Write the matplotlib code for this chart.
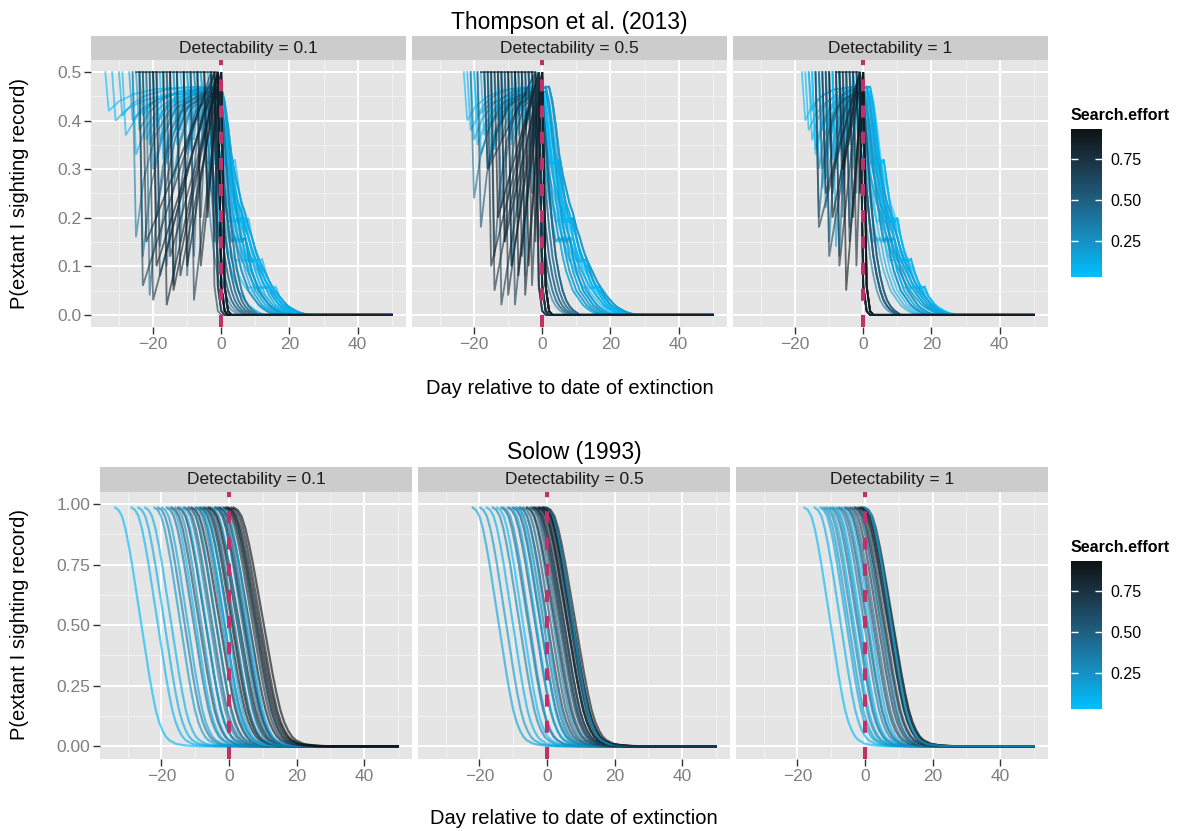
import numpy as np
import matplotlib
matplotlib.use('Agg')
import matplotlib.pyplot as plt
from matplotlib.colors import LinearSegmentedColormap, Normalize
from matplotlib.cm import ScalarMappable
from matplotlib.ticker import MultipleLocator

plt.rcParams['font.family'] = ['Liberation Sans', 'DejaVu Sans']

W, H = 1180, 831

facet_labels = ['Detectability = 0.1', 'Detectability = 0.5', 'Detectability = 1']

# colour scale for search effort
effort_palette = ['#00BFFF', '#1590C2', '#1F6286', '#1C394B', '#0E1215']
effort_range = [0.03, 0.93]

# ---- Thompson et al. (2013): one entry per simulated curve ----
# start day (P = 0.5), value after the first day, day the curve tops out, search effort
thompson_start = [
    [-34, -32, -30, -29, -27, -26, -25, -24, -22, -21, -20, -19, -18, -16, -15, -14, -13, -12, -11, -10, -9, -8, -7, -6, -5,
     -23, -17, -14, -10, -8, -6, -4, -3,
     -26, -24, -22, -20, -19, -17, -15, -13, -11, -9, -7, -5,
     -25, -24, -23, -21, -20, -19, -17, -16, -15, -13, -11, -9, -7, -5, -3, -2],
    [-23, -22, -21, -20, -19, -18, -17, -16, -15, -14, -13, -12, -11, -10, -9, -8, -7, -6, -5, -4, -3, -2,
     -20, -16, -13, -10, -8, -6, -4, -3,
     -21, -19, -17, -15, -13, -12, -10, -8, -6, -4,
     -18, -17, -16, -15, -14, -13, -12, -11, -10, -9, -8, -7, -6, -5, -4, -3],
    [-18, -17, -16, -15, -14, -13, -12, -11, -10, -9, -8, -7, -6, -5, -4, -3, -2, -16, -12, -9, -7, -4,
     -15, -13, -11, -9, -7, -5, -3, -2,
     -14, -13, -11, -10, -8, -7, -5, -3,
     -14, -12, -11, -10, -8, -7, -6, -5, -4, -3, -2, -8],
]
thompson_dip = [
    [0.42, 0.40, 0.41, 0.37, 0.40, 0.33, 0.38, 0.41, 0.35, 0.30, 0.39, 0.36, 0.32, 0.40, 0.28, 0.35, 0.38, 0.42, 0.33, 0.40, 0.36, 0.43, 0.38, 0.44, 0.41,
     0.36, 0.31, 0.38, 0.34, 0.40, 0.37, 0.42, 0.44,
     0.16, 0.12, 0.04, 0.20, 0.14, 0.10, 0.06, 0.15, 0.08, 0.12, 0.20, 0.25,
     0.50, 0.06, 0.15, 0.03, 0.10, 0.08, 0.02, 0.12, 0.05, 0.08, 0.10, 0.03, 0.10, 0.20, 0.15, 0.30],
    [0.40, 0.38, 0.36, 0.41, 0.33, 0.37, 0.30, 0.39, 0.34, 0.40, 0.36, 0.42, 0.38, 0.35, 0.41, 0.37, 0.43, 0.39, 0.42, 0.44, 0.40, 0.45,
     0.35, 0.32, 0.39, 0.36, 0.41, 0.38, 0.43, 0.45,
     0.24, 0.18, 0.30, 0.12, 0.22, 0.15, 0.10, 0.20, 0.08, 0.25,
     0.50, 0.30, 0.10, 0.05, 0.20, 0.02, 0.15, 0.04, 0.10, 0.02, 0.08, 0.12, 0.04, 0.10, 0.06, 0.15],
    [0.40, 0.38, 0.42, 0.34, 0.30, 0.38, 0.28, 0.36, 0.32, 0.30, 0.35, 0.33, 0.38, 0.40, 0.42, 0.43, 0.44, 0.36, 0.22, 0.14, 0.25, 0.30,
     0.33, 0.26, 0.37, 0.31, 0.39, 0.35, 0.42, 0.45,
     0.20, 0.30, 0.15, 0.25, 0.12, 0.20, 0.18, 0.25,
     0.18, 0.25, 0.12, 0.20, 0.10, 0.30, 0.05, 0.15, 0.20, 0.10, 0.25, 0.50],
]
thompson_peak = [
    [-8, -3, -6, 0, -4, -1, -2, -7, -1, 0, -5, -2, -1, -3, 0, -4, -2, -6, -1, 0, -3, -1, -2, 0, -1,
     -2, 0, -5, -1, -3, 0, -1, 0,
     -6, -5, -4, -4, -3, -3, -2, -2, -1, -1, 0, 0,
     -1, -3, -2, -2, -1, -2, -1, 0, -1, 0, -1, 0, 0, -1, 0, 0],
    [-3, -1, 0, -2, 1, -2, 2, -3, 0, -1, 1, -2, 1, 0, 2, -1, 1, 1, 2, 0, 1, 0,
     0, -1, 2, 1, -1, 1, 0, 1,
     -4, -3, -3, -2, -2, -1, -1, 0, 0, 0,
     -2, -2, -1, -2, -1, -1, 0, -1, 0, -1, 0, -1, 0, 0, 0, 0],
    [-2, 0, -3, 1, -1, 2, -2, 0, 1, -1, 2, 0, 1, -3, 2, 0, 1, -1, 0, 1, -2, 2,
     0, 1, -1, 2, 0, 1, 2, 0,
     -2, -1, -1, -1, 0, -1, 0, 0,
     -1, -1, -1, -1, -1, 0, 0, 0, 0, 0, 0, -1],
]
thompson_effort = [
    [0.04, 0.08, 0.12, 0.06, 0.18, 0.10, 0.22, 0.05, 0.15, 0.25, 0.09, 0.20, 0.13, 0.07, 0.28, 0.11, 0.17, 0.03, 0.24, 0.14, 0.19, 0.06, 0.30, 0.10, 0.16,
     0.02, 0.12, 0.21, 0.08, 0.27, 0.15, 0.05, 0.23,
     0.35, 0.40, 0.45, 0.50, 0.55, 0.38, 0.60, 0.42, 0.52, 0.48, 0.58, 0.36,
     0.93, 0.70, 0.80, 0.75, 0.90, 0.65, 0.85, 0.72, 0.88, 0.78, 0.92, 0.68, 0.82, 0.90, 0.76, 0.86],
    [0.05, 0.10, 0.15, 0.08, 0.20, 0.12, 0.25, 0.04, 0.18, 0.09, 0.28, 0.14, 0.22, 0.06, 0.30, 0.11, 0.19, 0.07, 0.26, 0.13, 0.16, 0.03,
     0.02, 0.12, 0.21, 0.08, 0.27, 0.15, 0.05, 0.23,
     0.40, 0.55, 0.35, 0.60, 0.45, 0.50, 0.38, 0.58, 0.42, 0.48,
     0.93, 0.66, 0.80, 0.74, 0.90, 0.70, 0.85, 0.78, 0.88, 0.68, 0.92, 0.76, 0.83, 0.90, 0.72, 0.87],
    [0.05, 0.10, 0.15, 0.08, 0.20, 0.12, 0.25, 0.04, 0.18, 0.09, 0.28, 0.14, 0.22, 0.06, 0.30, 0.11, 0.19, 0.07, 0.26, 0.13, 0.16, 0.03,
     0.02, 0.12, 0.21, 0.08, 0.27, 0.15, 0.05, 0.23,
     0.40, 0.55, 0.35, 0.60, 0.45, 0.50, 0.38, 0.58,
     0.70, 0.80, 0.66, 0.90, 0.75, 0.85, 0.92, 0.72, 0.88, 0.78, 0.93, 0.82],
]

# decline after the curve tops out (one value per day), read from light, mid and dark curves
thompson_decline_light = [
    [0.47, 0.44, 0.39, 0.33, 0.29, 0.26, 0.23, 0.21, 0.18, 0.16, 0.135, 0.115, 0.10, 0.085, 0.07,
     0.058, 0.048, 0.038, 0.03, 0.022, 0.016, 0.012, 0.008, 0.005, 0.003, 0.001, 0.0],
    [0.46, 0.42, 0.36, 0.31, 0.32, 0.27, 0.22, 0.19, 0.20, 0.16, 0.13, 0.11, 0.115, 0.09, 0.07,
     0.055, 0.058, 0.04, 0.03, 0.02, 0.014, 0.01, 0.006, 0.003, 0.001, 0.0],
    [0.47, 0.43, 0.37, 0.30, 0.24, 0.19, 0.15, 0.16, 0.12, 0.09, 0.07, 0.05, 0.04, 0.03, 0.02,
     0.014, 0.009, 0.005, 0.002, 0.0],
]
thompson_decline_mid = [0.46, 0.36, 0.26, 0.18, 0.12, 0.08, 0.05, 0.03, 0.018, 0.01, 0.005, 0.0]
thompson_decline_dark = [0.50, 0.06, 0.008, 0.0]
# rise from the dip back up towards the top (fraction of time, fraction of height)
rise_time = [0, 0.12, 0.3, 0.55, 1.0]
rise_height = [0, 0.4, 0.7, 0.9, 1.0]

# ---- Solow (1993) ----
solow_start = [
    [-33.7, -28.8, -26.8, -24.8, -22.1, -21, -19.9, -18.4, -17.5, -16.9, -15.9, -15, -14.5, -13.5, -13, -12, -11.5, -11,
     -10, -9.5, -9, -8.5, -8, -7.5, -7, -6.5, -6, -5.6, -5, -4.1, -4, -3.5, -3, -2.6, -2, -1.5, -1, -0.6, -0.3, 0, 0.8, 1.4],
    [-22, -19.8, -17.8, -16, -14.8, -13.5, -12.9, -11.5, -10.9, -10, -9.5, -8.9, -8, -7.9, -7, -6, -5.9, -5, -4.5,
     -4, -3.8, -3.5, -3, -2.5, -2.2, -2, -1.5, -1.2, -1, -0.8, -0.5, -0.2, 0],
    [-17.9, -14.9, -13.2, -12.5, -11.7, -11, -10.2, -9.5, -9, -8.2, -7.5, -6.8, -6, -5.7, -5, -4.3, -3.5, -3,
     -2.8, -2.2, -1.7, -1.3, -1, -0.8, -0.3, 0, -0.1],
]
solow_effort = [
    [0.05, 0.08, 0.12, 0.10, 0.20, 0.35, 0.15, 0.40, 0.10, 0.60, 0.25, 0.80, 0.10, 0.30, 0.50, 0.70, 0.20, 0.85,
     0.30, 0.60, 0.05, 0.90, 0.15, 0.75, 0.65, 0.45, 0.85, 0.90, 0.20, 0.80, 0.35, 0.55, 0.40, 0.92, 0.10, 0.70, 0.88, 0.93, 0.60, 0.90, 0.85, 0.93],
    [0.15, 0.20, 0.10, 0.30, 0.05, 0.40, 0.25, 0.50, 0.10, 0.60, 0.12, 0.35, 0.70, 0.20, 0.55, 0.30, 0.80, 0.45, 0.70,
     0.85, 0.50, 0.90, 0.65, 0.93, 0.85, 0.75, 0.88, 0.60, 0.92, 0.93, 0.80, 0.15, 0.90],
    [0.05, 0.10, 0.15, 0.20, 0.30, 0.12, 0.40, 0.25, 0.08, 0.35, 0.50, 0.20, 0.15, 0.60, 0.45, 0.70, 0.55, 0.30,
     0.80, 0.65, 0.90, 0.85, 0.60, 0.93, 0.90, 0.75, 0.10],
]
solow_stretch = [
    [1.0, 1.0, 1.0, 1.0, 1.0, 1.02, 1.0, 1.03, 1.0, 1.05, 1.0, 1.05, 1.0, 1.03, 1.04, 1.06, 1.0, 1.08,
     1.03, 1.06, 1.0, 1.1, 1.0, 1.08, 1.06, 1.04, 1.1, 1.12, 1.0, 1.1, 1.04, 1.06, 1.05, 1.12, 1.0, 1.1, 1.12, 1.15, 1.08, 1.15, 1.12, 1.15],
    [1.0, 1.0, 1.0, 1.02, 1.0, 1.03, 1.0, 1.04, 1.0, 1.05, 1.0, 1.03, 1.06, 1.0, 1.05, 1.03, 1.08, 1.04, 1.07,
     1.08, 1.05, 1.1, 1.06, 1.1, 1.08, 1.07, 1.1, 1.06, 1.1, 1.1, 1.08, 1.02, 1.1],
    [1.0, 1.0, 1.0, 1.0, 1.02, 1.0, 1.03, 1.0, 1.0, 1.03, 1.04, 1.0, 1.0, 1.05, 1.04, 1.06, 1.05, 1.03,
     1.08, 1.06, 1.1, 1.08, 1.06, 1.1, 1.1, 1.08, 1.02],
]
# shape of a Solow curve: days after its start and P(extant)
solow_offset = [0, 1, 2, 3, 4, 5, 6, 7, 8, 9, 10, 11, 12, 13, 14, 15, 16, 18, 20, 22, 25]
solow_shape = [0.985, 0.975, 0.95, 0.90, 0.83, 0.75, 0.66, 0.57, 0.48, 0.39, 0.30, 0.22, 0.15, 0.10,
               0.065, 0.04, 0.025, 0.01, 0.005, 0.002, 0.0]

last_day = 50

cmap = LinearSegmentedColormap.from_list('effort', effort_palette)
norm = Normalize(vmin=effort_range[0], vmax=effort_range[1])

fig = plt.figure(figsize=(W / 100, H / 100), dpi=100)


def add_box(x0, x1, y0, y1):
    # pixel box (top-left origin) -> figure axes
    return fig.add_axes([x0 / W, 1 - y1 / H, (x1 - x0) / W, (y1 - y0) / H])


def style_panel(ax, first, ystep, yfmt, ylim):
    ax.set_facecolor('#E5E5E5')
    for s in ax.spines.values():
        s.set_visible(False)
    ax.set_xlim(-38.2, 54.2)
    ax.set_ylim(*ylim)
    ax.xaxis.set_major_locator(MultipleLocator(20))
    ax.xaxis.set_minor_locator(MultipleLocator(10))
    ax.yaxis.set_major_locator(MultipleLocator(ystep))
    ax.yaxis.set_minor_locator(MultipleLocator(ystep / 2))
    ax.grid(which='major', color='white', lw=1.4)
    ax.grid(which='minor', color='#F2F2F2', lw=0.7)
    ax.set_axisbelow(True)
    ax.tick_params(which='major', length=5, width=1, color='#333333', labelcolor='#7F7F7F',
                   labelsize=12.5, pad=2)
    ax.tick_params(which='minor', length=0)
    ax.yaxis.set_major_formatter(yfmt)
    if not first:
        ax.tick_params(axis='y', left=False, labelleft=False)
    ax.axvline(0, color='#C0306A', lw=2.9, dashes=(3, 3.5), zorder=10)


def add_strip(x0, x1, y0, y1, text):
    sa = add_box(x0, x1, y0, y1)
    sa.set_facecolor('#CCCCCC')
    for s in sa.spines.values():
        s.set_visible(False)
    sa.set_xticks([])
    sa.set_yticks([])
    sa.text(0.5, 0.5, text, ha='center', va='center', fontsize=12.5, color='#1A1A1A',
            transform=sa.transAxes)


def add_legend(x0, x1, y0, y1, title_y):
    cax = add_box(x0, x1, y0, y1)
    cb = fig.colorbar(ScalarMappable(norm=norm, cmap=cmap), cax=cax, ticks=[0.25, 0.5, 0.75])
    cb.outline.set_visible(False)
    cb.ax.set_yticklabels(['0.25', '0.50', '0.75'])
    cb.ax.tick_params(length=5, width=1, color='white', direction='in', left=True, right=True,
                      labelcolor='black', labelsize=11.5, pad=6)
    cb.ax.minorticks_off()
    fig.text(x0 / W, 1 - title_y / H, 'Search.effort', fontsize=11.5, fontweight='bold',
             ha='left', va='center')


def thompson_curve(idx, s, d, p, e):
    if e < 0.33:
        decline = thompson_decline_light[idx % 3]
        rt, rh = rise_time, rise_height
    elif e < 0.62:
        decline = thompson_decline_mid
        rt, rh = rise_time, rise_height
    else:
        decline = thompson_decline_dark
        rt, rh = [0, 1.0], [0, 1.0]
    pv = decline[0]
    xs = [s, s + 1]
    ys = [0.5, d]
    if p > s + 1:
        for t, h in zip(rt[1:], rh[1:]):
            xs.append(s + 1 + t * (p - s - 1))
            ys.append(d + h * (pv - d))
    top = max(p, s + 1)
    for i, v in enumerate(decline[1:], 1):
        xs.append(top + i)
        ys.append(v)
    xs.append(last_day)
    ys.append(0.0)
    return xs, ys


# ---- top row: Thompson et al. (2013) ----
top_x = [(91, 406), (412, 727), (733, 1048)]
for k, (x0, x1) in enumerate(top_x):
    ax = add_box(x0, x1, 60, 327)
    style_panel(ax, k == 0, 0.1, '{x:.1f}', (-0.025, 0.525))
    rows = zip(thompson_start[k], thompson_dip[k], thompson_peak[k], thompson_effort[k])
    for idx, (s, d, p, e) in enumerate(rows):
        xs, ys = thompson_curve(idx, s, d, p, e)
        ax.plot(xs, ys, color=cmap(norm(e)), lw=1.3, alpha=0.62, solid_joinstyle='miter')
    add_strip(x0, x1, 36, 60, facet_labels[k])

fig.text(569.5 / W, 1 - 22 / H, 'Thompson et al. (2013)', ha='center', va='center', fontsize=16.5)
fig.text(569.5 / W, 1 - 388 / H, 'Day relative to date of extinction', ha='center', va='center', fontsize=14.5)
fig.text(20 / W, 1 - 193.5 / H, 'P(extant I sighting record)', ha='center', va='center',
         rotation=90, fontsize=14.5)
add_legend(1071, 1102, 129, 277, 116)

# ---- bottom row: Solow (1993) ----
bot_x = [(100, 412), (418, 730), (736, 1048)]
for k, (x0, x1) in enumerate(bot_x):
    ax = add_box(x0, x1, 492, 759)
    style_panel(ax, k == 0, 0.25, '{x:.2f}', (-0.0525, 1.0496))
    for s, e, st in zip(solow_start[k], solow_effort[k], solow_stretch[k]):
        xs = [s + st * o for o in solow_offset] + [last_day]
        ys = list(solow_shape) + [0.0]
        ax.plot(xs, ys, color=cmap(norm(e)), lw=1.6, alpha=0.64)
    add_strip(x0, x1, 467, 492, facet_labels[k])

fig.text(574 / W, 1 - 453 / H, 'Solow (1993)', ha='center', va='center', fontsize=16.5)
fig.text(574 / W, 1 - 819 / H, 'Day relative to date of extinction', ha='center', va='center', fontsize=14.5)
fig.text(20 / W, 1 - 625 / H, 'P(extant I sighting record)', ha='center', va='center',
         rotation=90, fontsize=14.5)
add_legend(1071, 1102, 561, 709, 548)

fig.savefig('out.png', dpi=100)
